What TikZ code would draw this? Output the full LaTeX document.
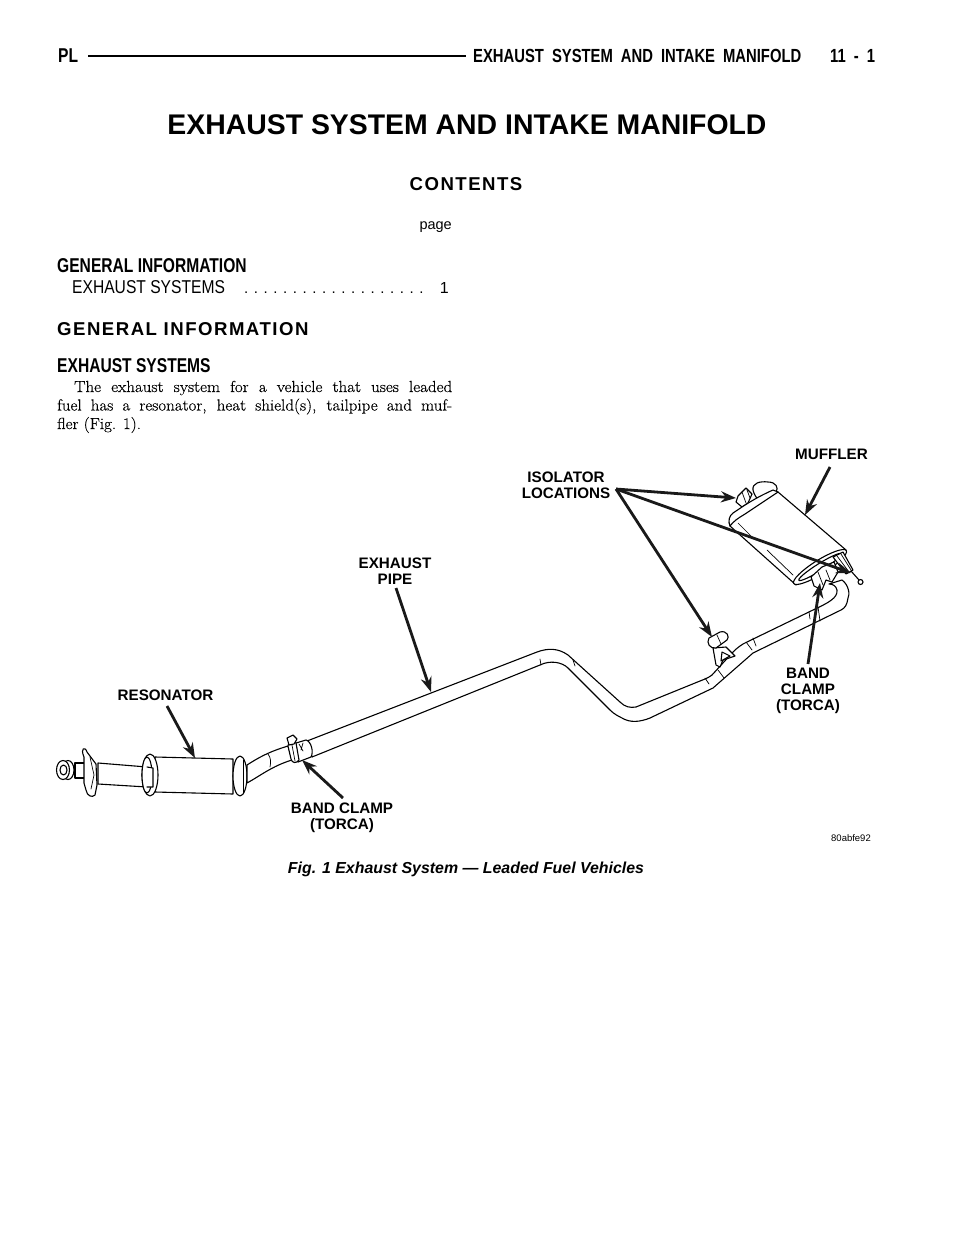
\documentclass[tikz,border=0pt]{standalone}
\usepackage{fontspec}
\usepackage{tikz}
\usetikzlibrary{
  arrows.meta
}
\setsansfont{Liberation Sans}
\newfontfamily\condfont[FakeStretch=0.84]{Liberation Sans}
\newfontfamily\narrowfont[FakeStretch=0.78]{Liberation Sans}
\newfontfamily\widefont[LetterSpace=8]{Liberation Sans}
\newfontfamily\bodyfont[FakeStretch=1.06,FakeBold=0.35]{Latin Modern Roman}
\newcommand\runningfont{\narrowfont\bfseries\fontsize{19}{19}\selectfont\spaceskip=8pt\relax}
\tikzset{
  >={Stealth[length=15pt,width=11pt]},
  heading/.style={anchor=base west,inner sep=0pt,font=\narrowfont\bfseries\fontsize{20}{20}\selectfont},
  callout/.style={align=center,inner sep=0pt,font=\sffamily\bfseries\fontsize{15.2}{16}\selectfont},
  leader/.style={->,line width=2.8pt,draw=black!90},
  part/.style={line width=1.1pt,line join=round,line cap=round,fill=white},
  fine/.style={line width=0.7pt,line cap=round}
}
\begin{document}
\begin{tikzpicture}[x=1pt,y=-1pt]
\useasboundingbox (0,0) rectangle (960,1242);
% page header
\node[heading] (pl) at (58,62) {PL};
\node[heading,font=\runningfont] (running) at (473,62) {EXHAUST SYSTEM AND INTAKE MANIFOLD};
\node[heading,font=\runningfont] (folio) at (830,62) {11 - 1};
\coordinate (ruleA) at (88,56);
\coordinate (ruleB) at (466,56);
\draw[line width=2.4pt] (ruleA) -- (ruleB);
% title block
\node[font=\sffamily\bfseries\fontsize{28.4}{28.4}\selectfont] (title) at (467,124.5) {EXHAUST SYSTEM AND INTAKE MANIFOLD};
\node[font=\widefont\bfseries\fontsize{18.6}{18.6}\selectfont] (contents) at (466,184) {CONTENTS};
\node[anchor=base east,inner sep=0pt,font=\sffamily\fontsize{14.5}{14.5}\selectfont] (pagehead) at (452,229) {page};
\node[heading] (geninfo) at (57,272) {GENERAL INFORMATION};
\node[heading,font=\condfont\fontsize{18.6}{18.6}\selectfont] (exsys) at (72,293) {EXHAUST SYSTEMS};
\node[anchor=base west,inner sep=0pt,font=\sffamily\fontsize{15}{15}\selectfont] (dots) at (244,293) {. . . . . . . . . . . . . . . . . . .};
\node[anchor=base east,inner sep=0pt,font=\sffamily\fontsize{16}{16}\selectfont] (pageno) at (449,293) {1};
\node[heading,font=\widefont\bfseries\fontsize{18.6}{18.6}\selectfont] (geninfob) at (57,335) {GENERAL INFORMATION};
\node[heading] (exsysb) at (57,372) {EXHAUST SYSTEMS};
\node[anchor=base west,inner sep=0pt,text width=395pt,align=justify,font=\bodyfont\fontsize{16}{18.5}\selectfont] (bodytext) at (57,392)
  {\hspace*{17pt}The exhaust system for a vehicle that uses leaded\linebreak
  fuel has a resonator, heat shield(s), tailpipe and muf-\linebreak
  fler (Fig. 1).};
% inlet and resonator
\draw[part] (98,763) -- (147,767) -- (147,787) -- (98,784) -- cycle;
\draw[part] (75,763) -- (88,763) -- (88,778) -- (75,778) -- cycle;
\draw[part] (68,770) ellipse[x radius=6,y radius=9.5];
\draw[part] (63,770) ellipse[x radius=6.5,y radius=9.5];
\draw[part] (63.5,770) ellipse[x radius=3.5,y radius=5];
\draw[part] (84,757) .. controls (80,748) and (85,746) .. (87,752) -- (96,764) -- (97,785) -- (95,795) .. controls (92,798) and (87,796) .. (86,790) -- (84,783) -- cycle;
\draw[fine] (90,757) -- (94,775) -- (91,789);
\draw[part] (155,757) -- (233,759) -- (233,794) -- (155,792) -- cycle;
\draw[part] (150,775) ellipse[x radius=8,y radius=21];
\draw[part] (147,775) ellipse[x radius=5,y radius=18];
\draw[part] (147,767) -- (153,768) -- (153,787) -- (147,787);
\draw[part] (240,776) ellipse[x radius=7,y radius=20];
\draw[fine] (243,760) -- (243,793);
% exhaust pipe
\draw[part] (247,765) .. controls (258,758) and (268,752) .. (288,746) -- (292,760)
  .. controls (272,766) and (260,776) .. (247,783) -- cycle;
\draw[fine] (268,754) .. controls (271,758) and (271,762) .. (270,767);
\draw[part] (307,741) -- (537,652)
  .. controls (548,648) and (558,648) .. (568,655) -- (620,702)
  .. controls (625,707) and (630,708) .. (636,707) -- (700,681)
  .. controls (705,679) and (708,678) .. (712,675) -- (733,652)
  .. controls (737,648) and (742,644) .. (747,642) -- (813,610)
  .. controls (828,603) and (838,598) .. (837,590) .. controls (836,586) and (833,584) .. (829,584)
  -- (842,580) .. controls (849,585) and (850,595) .. (848,598)
  .. controls (847,605) and (845,608) .. (841,610) -- (753,653)
  -- (713,688) -- (650,718) .. controls (640,722) and (630,723) .. (622,718)
  .. controls (618,716) and (614,714) .. (610,710) -- (568,668)
  .. controls (562,662) and (550,660) .. (540,665) -- (312,757) -- cycle;
\foreach \xa/\ya/\xb/\yb in {540/659/541/665,573/660/575/666,705/678/709/684,
  718/670/724/678,746/642/752/650,753/638/756/646,809/612/810/619,818/607/820/621}
  \draw[fine] (\xa,\ya) -- (\xb,\yb);
% front band clamp
\draw[part] (296,743) -- (306,740) .. controls (311,741) and (314,752) .. (311,757) -- (298,762) -- cycle;
\draw[part] (288,746) .. controls (287,743) and (294,741) .. (296,743) -- (299,760) .. controls (296,764) and (292,763) .. (291,759) -- cycle;
\draw[part] (287,738) -- (293,735) -- (297,739) -- (294,744) -- (289,745) -- cycle;
\draw[fine] (292,745) -- (295,761) (299,744) -- (303,751) (303,743) -- (301,750);
% mid isolator
\draw[part] (713,648) -- (716,665) -- (720,667) -- (723,660) -- (735,656) -- (726,647) -- cycle;
\draw[part] (722,652) -- (721,661) -- (730,656) -- cycle;
\draw[part] (709,638) -- (720,632) .. controls (727,630) and (730,637) .. (727,640) -- (716,648) .. controls (710,649) and (706,643) .. (709,638) -- cycle;
\draw[fine] (717,635) -- (721,644);
% muffler
\draw[part] (753,490) .. controls (752,483) and (760,481) .. (768,482) .. controls (776,482) and (779,488) .. (776,492) -- (759,500) .. controls (756,498) and (754,494) .. (753,490) -- cycle;
\draw[part] (738,496) -- (746,488) -- (752,494) -- (748,503) -- (742,507) -- (736,502) -- cycle;
\draw[fine] (742,492) -- (746,503) (747,490) -- (750,498);
\draw[part] (778,492) -- (846,550) -- (796,585) -- (730,526) .. controls (728,521) and (730,518) .. (733,515) -- (770,493) -- cycle;
\draw[part] (778,492) -- (773,490) .. controls (755,498) and (745,505) .. (733,513) .. controls (729,516) and (728,521) .. (730,526) .. controls (735,520) and (737,519) .. (745,514) -- cycle;
\draw[fine] (738,523) -- (753,538) (767,550) -- (793,575);
\draw[part,rotate around={32:(820,567)}] (820,567) ellipse[x radius=31,y radius=7];
\draw[part,rotate around={32:(820,567)}] (820,567) ellipse[x radius=25,y radius=3.5];
% tailpipe and rear hanger
\draw[part] (833,557) -- (843,552) -- (853,570) -- (846,574) -- cycle;
\draw[fine] (837,556) -- (849,572) (841,554) -- (851,570);
\draw[part] (851,571) -- (859,580);
\draw[part] (860.5,582) circle[radius=2.5];
\draw[part] (811,577) -- (822,567) -- (834,562) -- (838,572) -- (832,582) -- (826,580) -- (822,590) -- (814,586) -- cycle;
\draw[fine] (818,572) -- (823,585) (826,570) -- (830,580);
% callouts
\node[callout] (muffler) at (831.5,454) {MUFFLER};
\node[callout] (isolators) at (566,485) {ISOLATOR\\LOCATIONS};
\node[callout] (pipelabel) at (395,571) {EXHAUST\\PIPE};
\node[callout] (bandrear) at (808,691) {BAND\\CLAMP\\(TORCA)};
\node[callout] (resonator) at (165.5,695) {RESONATOR};
\node[callout] (bandfront) at (342,818) {BAND CLAMP\\(TORCA)};
\coordinate (isoA) at (736,498);
\coordinate (isoB) at (851,573);
\coordinate (isoC) at (712,637);
\coordinate (isoRoot) at (616,489);
\coordinate (mufflerEnd) at (805,515);
\coordinate (pipeEnd) at (431,692);
\coordinate (clampRearEnd) at (820,583);
\coordinate (resonatorEnd) at (195,758);
\coordinate (clampFrontEnd) at (302,760);
\draw[leader] (isoRoot) -- (isoA);
\draw[leader] (isoRoot) -- (isoB);
\draw[leader] (isoRoot) -- (isoC);
\draw[leader] (830,467) -- (mufflerEnd);
\draw[leader] (396,588) -- (pipeEnd);
\draw[leader] (808,664) -- (clampRearEnd);
\draw[leader] (167,706) -- (resonatorEnd);
\draw[leader] (343,798) -- (clampFrontEnd);
% figure code and caption
\node[anchor=base east,inner sep=0pt,font=\sffamily\fontsize{9.5}{9.5}\selectfont] (figcode) at (871,841) {80abfe92};
\node[font=\sffamily\bfseries\itshape\fontsize{15.9}{15.9}\selectfont] (caption) at (466,869) {Fig. 1 Exhaust System — Leaded Fuel Vehicles};
\end{tikzpicture}
\end{document}
